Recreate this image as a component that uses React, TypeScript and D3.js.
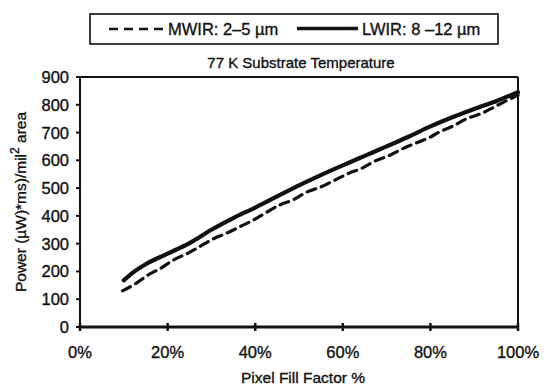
import React from "react";
import * as d3 from "d3";

const xTicks = [0, 20, 40, 60, 80, 100];
const xTickLabels = ["0%", "20%", "40%", "60%", "80%", "100%"];
const yTicks = [0, 100, 200, 300, 400, 500, 600, 700, 800, 900];

const mwirFill = [9.7, 12.9, 15.6, 18.6, 21.3, 24.7, 27.4, 30.4, 33.5, 36.5, 39.6, 42.6, 45.7, 48.7, 51.8, 54.8, 58.2, 61.3, 64.3, 67.4, 70.4, 73.4, 76.5, 79.5, 82.2, 85.2, 88.3, 91.7, 94.7, 97.8, 100];
const mwirPower = [130, 158, 188, 213, 241, 266, 290, 317, 338, 361, 385, 413, 440, 458, 486, 503, 529, 553, 571, 598, 616, 640, 661, 680, 703, 724, 750, 769, 793, 818, 835];

const lwirFill = [10, 12, 15, 20, 25, 30, 35, 40, 45, 50, 55, 60, 65, 70, 75, 80, 85, 90, 95, 100];
const lwirPower = [168, 195, 226, 264, 302, 350, 392, 430, 470, 510, 547, 582, 616, 650, 685, 722, 755, 785, 813, 845];

const legendLabels = ["MWIR: 2\u20135 \u00b5m", "LWIR: 8 \u201312 \u00b5m"];
const chartTitle = "77 K Substrate Temperature";
const xTitle = "Pixel Fill Factor %";

const W = 544;
const H = 389;
const left = 80, right = 518, top = 77, bottom = 327;
const FONT = "'Liberation Sans', Arial, Helvetica, sans-serif";
const INK = "#111";
const textStroke = { stroke: INK, strokeWidth: 0.35 };

export default function App() {
  const x = d3.scaleLinear().domain([0, 100]).range([left, right]);
  const y = d3.scaleLinear().domain([0, 900]).range([bottom, top]);
  const line = d3
    .line<[number, number]>()
    .x((d) => x(d[0]))
    .y((d) => y(d[1]))
    .curve(d3.curveMonotoneX);
  const mwir = line(mwirFill.map((f, i) => [f, mwirPower[i]]) as [number, number][]) || "";
  const lwir = line(lwirFill.map((f, i) => [f, lwirPower[i]]) as [number, number][]) || "";

  return (
    <svg
      width={W}
      height={H}
      style={{ position: "absolute", left: 0, top: 0, background: "#fff" }}
      fontFamily={FONT}
    >
      <rect x={0} y={0} width={W} height={H} fill="#fff" />
      {/* legend */}
      <rect x={90} y={14} width={408} height={30} fill="none" stroke={INK} strokeWidth={1.6} />
      <line x1={109} x2={163} y1={29} y2={29} stroke={INK} strokeWidth={2.6} strokeDasharray="9 6" />
      <text x={168} y={34.5} fontSize={16.5} fill={INK} {...textStroke}>{legendLabels[0]}</text>
      <line x1={297} x2={358} y1={28.5} y2={28.5} stroke={INK} strokeWidth={3.5} />
      <text x={362} y={34.5} fontSize={16.5} fill={INK} {...textStroke}>{legendLabels[1]}</text>

      {/* title */}
      <text x={301} y={68} fontSize={15} textAnchor="middle" fill={INK} {...textStroke}>{chartTitle}</text>

      {/* frame */}
      <line x1={left} x2={right} y1={top} y2={top} stroke={INK} strokeWidth={2} />
      <line x1={right} x2={right} y1={top} y2={bottom} stroke={INK} strokeWidth={2} />
      <line x1={left} x2={left} y1={top} y2={bottom} stroke={INK} strokeWidth={2} />
      <line x1={left - 1} x2={right + 1} y1={bottom} y2={bottom} stroke={INK} strokeWidth={3.2} />

      {/* y ticks */}
      {yTicks.map((t) => (
        <g key={"y" + t}>
          <line x1={left - 4} x2={left + 1} y1={y(t)} y2={y(t)} stroke={INK} strokeWidth={2} />
          <text x={69} y={y(t) + 6} fontSize={16.5} textAnchor="end" fill={INK} {...textStroke}>{t}</text>
        </g>
      ))}

      {/* x ticks */}
      {xTicks.map((t, i) => (
        <g key={"x" + t}>
          <line x1={x(t)} x2={x(t)} y1={bottom - 4} y2={bottom + 4} stroke={INK} strokeWidth={2.5} />
          <text x={x(t)} y={358} fontSize={16.5} textAnchor="middle" fill={INK} {...textStroke}>{xTickLabels[i]}</text>
        </g>
      ))}

      {/* axis titles */}
      <text x={303} y={383} fontSize={15.5} textAnchor="middle" fill={INK} {...textStroke}>{xTitle}</text>
      <text
        transform={`translate(26, ${(top + bottom) / 2}) rotate(-90)`}
        fontSize={15.5}
        textAnchor="middle"
        fill={INK}
        {...textStroke}
      >
        Power (µW)*ms)/mil<tspan dy={-7} fontSize={12}>2</tspan><tspan dy={7}> area</tspan>
      </text>

      {/* series */}
      <path d={lwir} fill="none" stroke={INK} strokeWidth={4.2} strokeLinecap="round" />
      <path d={mwir} fill="none" stroke={INK} strokeWidth={3.2} strokeDasharray="9 6" strokeLinecap="round" />
    </svg>
  );
}
